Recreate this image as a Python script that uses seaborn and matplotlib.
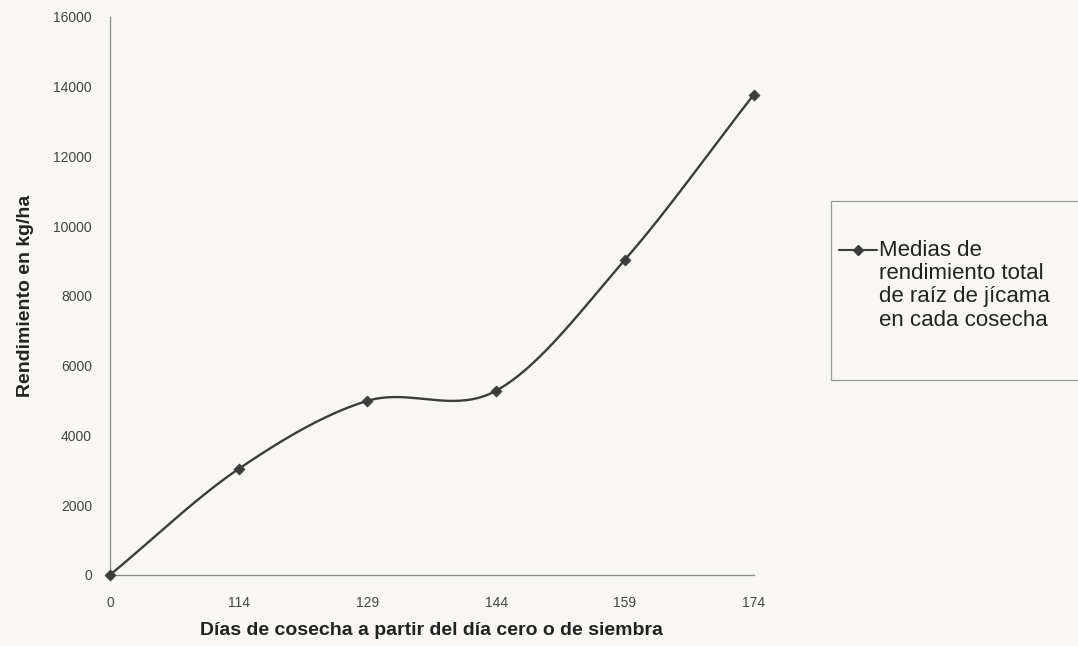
import numpy as np
import pandas as pd
import matplotlib
matplotlib.use("Agg")
import matplotlib.pyplot as plt
import seaborn as sns

# datos de la gráfica
dias = ["0", "114", "129", "144", "159", "174"]
rendimiento = [0, 3040, 4990, 5280, 9030, 13760]
serie = "Medias de\nrendimiento total\nde raíz de jícama\nen cada cosecha"

sns.set_style("white")
plt.rcParams["font.family"] = ["Liberation Sans", "DejaVu Sans"]

bg = "#f8f7f3"
linea = "#3c3c3c"

df = pd.DataFrame({"pos": np.arange(len(dias)), "dias": dias, "kg": rendimiento})

# curva suavizada tipo Catmull-Rom (como la línea suavizada de Excel)
def suavizar(x, y, n=40):
    x = np.asarray(x, float)
    y = np.asarray(y, float)
    px = np.concatenate([[2 * x[0] - x[1]], x, [2 * x[-1] - x[-2]]])
    py = np.concatenate([[2 * y[0] - y[1]], y, [2 * y[-1] - y[-2]]])
    xs, ys = [], []
    t = np.linspace(0, 1, n)
    for i in range(1, len(px) - 2):
        for p, out in ((px, xs), (py, ys)):
            p0, p1, p2, p3 = p[i - 1], p[i], p[i + 1], p[i + 2]
            out.append(0.5 * ((2 * p1) + (-p0 + p2) * t
                              + (2 * p0 - 5 * p1 + 4 * p2 - p3) * t ** 2
                              + (-p0 + 3 * p1 - 3 * p2 + p3) * t ** 3))
    return np.concatenate(xs), np.concatenate(ys)

sx, sy = suavizar(df["pos"], df["kg"])
curva = pd.DataFrame({"pos": sx, "kg": sy})

fig = plt.figure(figsize=(10.78, 6.46), dpi=100, facecolor=bg)
ax = fig.add_axes([0.102, 0.110, 0.597, 0.864])
ax.set_facecolor(bg)

sns.lineplot(data=curva, x="pos", y="kg", ax=ax, color=linea, lw=1.7,
             sort=False, estimator=None)
sns.scatterplot(data=df, x="pos", y="kg", ax=ax, marker="D", s=32,
                color=linea, edgecolor=linea, zorder=3)
ax.collections[-1].set_clip_on(False)
ax.lines[0].set_clip_on(False)

ax.set_xlim(0, len(dias) - 1)
ax.set_ylim(0, 16000)
ax.set_xticks(df["pos"])
ax.set_xticklabels(dias)
ax.set_yticks(np.arange(0, 16001, 2000))
ax.tick_params(axis="both", direction="inout", length=6, width=0.8,
               color="#777777", labelsize=10, labelcolor="#444444")
ax.tick_params(axis="x", pad=12)
ax.tick_params(axis="y", pad=10)
for s in ["top", "right"]:
    ax.spines[s].set_visible(False)
for s in ["left", "bottom"]:
    ax.spines[s].set_color("#888888")
    ax.spines[s].set_linewidth(0.9)

ax.set_xlabel("Días de cosecha a partir del día cero o de siembra",
              fontsize=14, fontweight="bold", color="#222222", labelpad=9)
ax.set_ylabel("Rendimiento en kg/ha", fontsize=14, fontweight="bold",
              color="#222222", labelpad=14)

# caja de la leyenda (se corta en el borde derecho)
caja = plt.Rectangle((0.771, 0.412), 0.26, 0.277, transform=fig.transFigure,
                     facecolor=bg, edgecolor="#999999", lw=0.9, clip_on=False)
fig.patches.append(caja)
# muestra de la serie alineada con la primera línea del texto
fig.lines.append(plt.Line2D([0.778, 0.814], [0.613, 0.613],
                            transform=fig.transFigure, color=linea, lw=1.5))
fig.lines.append(plt.Line2D([0.796], [0.613], transform=fig.transFigure,
                            color=linea, marker="D", markersize=5))
fig.text(0.815, 0.629, serie, ha="left", va="top", fontsize=16,
         color="#222222", linespacing=1.15)

fig.savefig("out.png", dpi=100, facecolor=bg)
